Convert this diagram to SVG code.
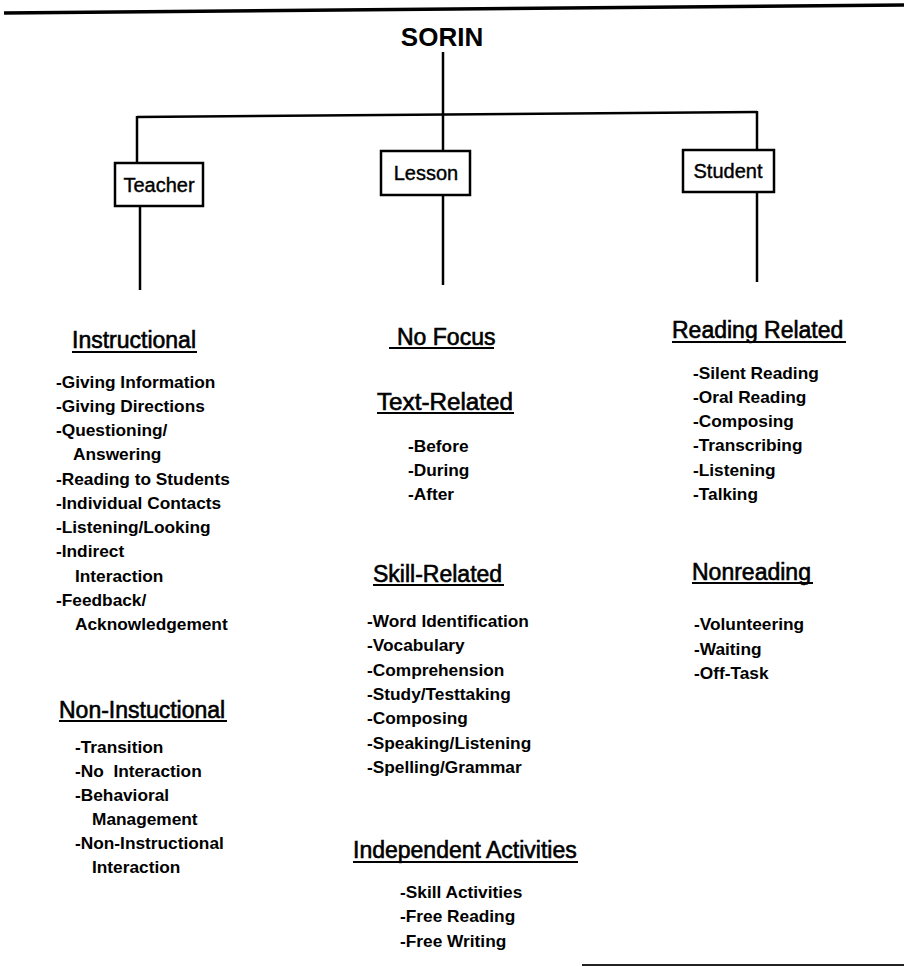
<svg xmlns="http://www.w3.org/2000/svg" width="904" height="967" viewBox="0 0 904 967">
<style>
.ln{stroke:#000;stroke-width:2.5;fill:none}
.box{stroke:#000;stroke-width:2.5;fill:#fff}
.ul{stroke:#000;stroke-width:2}
.t{font-family:"Liberation Sans",Arial,sans-serif;fill:#000}
.title{font-size:26px;font-weight:bold}
.bl{font-size:20px;stroke:#000;stroke-width:0.4}
.hd{font-size:23px;stroke:#000;stroke-width:0.6}
.it{font-size:17.3px;font-weight:bold}
</style>
<rect width="904" height="967" fill="#fff"/>
<line x1="4" y1="13" x2="904" y2="5" stroke="#000" stroke-width="3.5"/>
<line x1="582" y1="965" x2="904" y2="965" stroke="#222" stroke-width="2"/>

<g id="connectors">
<line class="ln" x1="443" y1="52" x2="443" y2="114"/>
<line class="ln" x1="137" y1="117" x2="757" y2="112"/>
<line class="ln" x1="137" y1="116" x2="137" y2="163"/>
<line class="ln" x1="443" y1="114" x2="443" y2="151"/>
<line class="ln" x1="757" y1="111" x2="757" y2="150"/>
<line class="ln" x1="140" y1="206" x2="140" y2="290"/>
<line class="ln" x1="443" y1="195" x2="443" y2="285"/>
<line class="ln" x1="757" y1="192" x2="757" y2="282"/>
</g>

<g id="sorin"><text class="t title" x="442" y="46" text-anchor="middle">SORIN</text></g>

<g id="teacher"><rect class="box" x="115" y="163" width="88" height="43"/><text class="t bl" x="159" y="192" text-anchor="middle">Teacher</text></g>
<g id="lesson"><rect class="box" x="381" y="151" width="89" height="44"/><text class="t bl" x="426" y="180" text-anchor="middle">Lesson</text></g>
<g id="student"><rect class="box" x="683" y="150" width="91" height="42"/><text class="t bl" x="728" y="178" text-anchor="middle">Student</text></g>

<g id="instructional">
<text class="t hd" x="72" y="348">Instructional</text><line class="ul" x1="72" y1="352" x2="197" y2="352"/>
<g class="t it">
<text x="56" y="388">-Giving Information</text>
<text x="56" y="412">-Giving Directions</text>
<text x="56" y="436">-Questioning/</text>
<text x="73" y="460">Answering</text>
<text x="56" y="485">-Reading to Students</text>
<text x="56" y="509">-Individual Contacts</text>
<text x="56" y="533">-Listening/Looking</text>
<text x="56" y="557">-Indirect</text>
<text x="75" y="582">Interaction</text>
<text x="56" y="606">-Feedback/</text>
<text x="75" y="630">Acknowledgement</text>
</g>
</g>

<g id="non-instructional">
<text class="t hd" x="59" y="718">Non-Instuctional</text><line class="ul" x1="59" y1="721" x2="227" y2="721"/>
<g class="t it">
<text x="75" y="753">-Transition</text>
<text x="75" y="777" xml:space="preserve">-No  Interaction</text>
<text x="75" y="801">-Behavioral</text>
<text x="92" y="825">Management</text>
<text x="75" y="849">-Non-Instructional</text>
<text x="92" y="873">Interaction</text>
</g>
</g>

<g id="no-focus">
<text class="t hd" x="397" y="345">No Focus</text><line class="ul" x1="389" y1="348" x2="494" y2="348"/>
</g>

<g id="text-related">
<text class="t hd" x="377" y="410" textLength="136" lengthAdjust="spacingAndGlyphs">Text-Related</text><line class="ul" x1="377" y1="413" x2="514" y2="413"/>
<g class="t it">
<text x="408" y="452">-Before</text>
<text x="408" y="476">-During</text>
<text x="408" y="500">-After</text>
</g>
</g>

<g id="skill-related">
<text class="t hd" x="373" y="582">Skill-Related</text><line class="ul" x1="373" y1="585" x2="504" y2="585"/>
<g class="t it">
<text x="367" y="627">-Word Identification</text>
<text x="367" y="651">-Vocabulary</text>
<text x="367" y="676">-Comprehension</text>
<text x="367" y="700">-Study/Testtaking</text>
<text x="367" y="724">-Composing</text>
<text x="367" y="749">-Speaking/Listening</text>
<text x="367" y="773">-Spelling/Grammar</text>
</g>
</g>

<g id="independent">
<text class="t hd" x="353" y="858">Independent Activities</text><line class="ul" x1="353" y1="862" x2="578" y2="862"/>
<g class="t it">
<text x="400" y="898">-Skill Activities</text>
<text x="400" y="922">-Free Reading</text>
<text x="400" y="947">-Free Writing</text>
</g>
</g>

<g id="reading-related">
<text class="t hd" x="672" y="338">Reading Related</text><line class="ul" x1="672" y1="342" x2="846" y2="342"/>
<g class="t it">
<text x="693" y="379">-Silent Reading</text>
<text x="693" y="403">-Oral Reading</text>
<text x="693" y="427">-Composing</text>
<text x="693" y="451">-Transcribing</text>
<text x="693" y="476">-Listening</text>
<text x="693" y="500">-Talking</text>
</g>
</g>

<g id="nonreading">
<text class="t hd" x="692" y="580">Nonreading</text><line class="ul" x1="692" y1="583" x2="813" y2="583"/>
<g class="t it">
<text x="694" y="630">-Volunteering</text>
<text x="694" y="655">-Waiting</text>
<text x="694" y="679">-Off-Task</text>
</g>
</g>
</svg>
